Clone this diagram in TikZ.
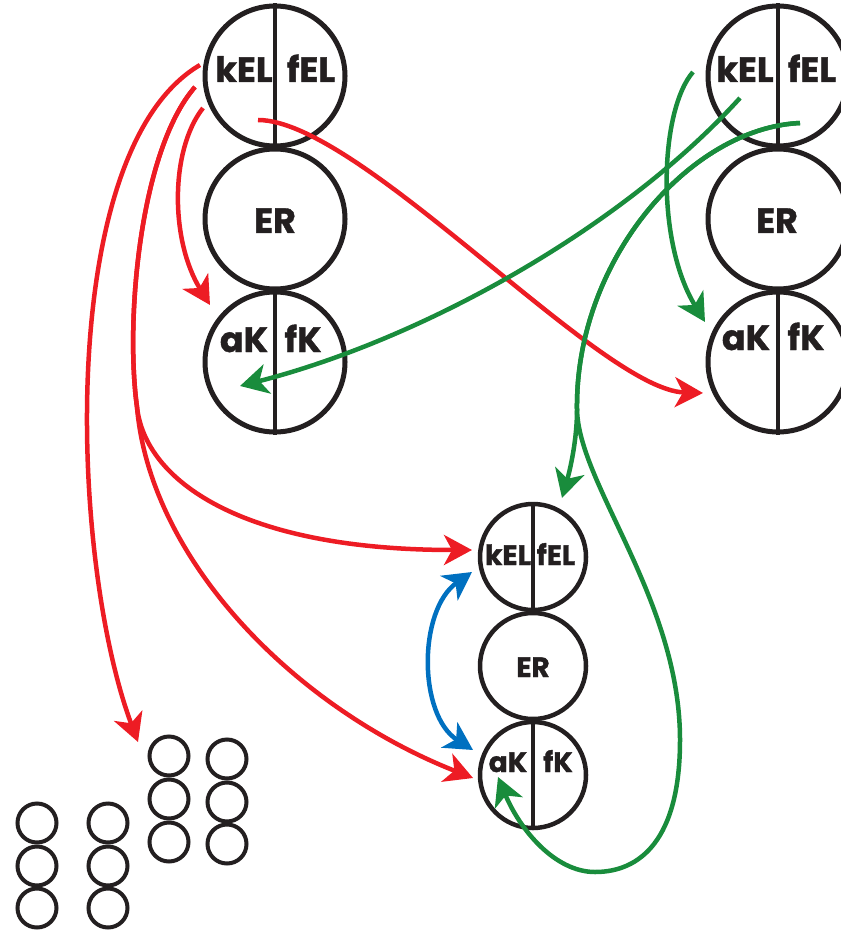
\documentclass[tikz,border=0pt]{standalone}
\usepackage{fontspec}
\setmainfont{Poppins}
\usetikzlibrary{arrows.meta}
\definecolor{cred}{RGB}{237,28,36}
\definecolor{cgreen}{RGB}{25,140,60}
\definecolor{cblue}{RGB}{0,112,192}
\definecolor{cblack}{RGB}{35,31,32}
\begin{document}
\begin{tikzpicture}[x=1pt,y=-1pt,
  bigc/.style={circle,draw=cblack,line width=5pt,minimum size=140pt,inner sep=0pt},
  midc/.style={circle,draw=cblack,line width=4.5pt,minimum size=106pt,inner sep=0pt},
  smallc/.style={circle,draw=cblack,line width=4pt,minimum size=39pt,inner sep=0pt},
  bigt/.style={font=\fontsize{35}{35}\selectfont\bfseries\addfontfeatures{FakeBold=1.2},text=cblack,anchor=base,inner sep=0pt},
  midt/.style={font=\fontsize{28}{28}\selectfont\bfseries\addfontfeatures{FakeBold=1.2},text=cblack,anchor=base,inner sep=0pt},
  divider/.style={draw=cblack,line width=4.5pt},
  conn/.style={line width=4.5pt,-{Stealth[length=28pt,width=30pt,inset=8pt]}},
  redc/.style={conn,draw=cred},
  greenc/.style={conn,draw=cgreen},
  bluec/.style={line width=4.5pt,draw=cblue,{Stealth[length=28pt,width=30pt,inset=8pt]}-{Stealth[length=28pt,width=30pt,inset=8pt]}}]
\useasboundingbox (0,0) rectangle (840,933);

% big circles, left column
\node[bigc] (TL1) at (275,76) {};
\node[bigc] (TL2) at (275,219) {};
\node[bigc] (TL3) at (275,362) {};
% big circles, right column
\node[bigc] (TR1) at (778,76) {};
\node[bigc] (TR2) at (778,219) {};
\node[bigc] (TR3) at (778,362) {};
% middle column
\node[midc] (M1) at (533,557) {};
\node[midc] (M2) at (533,666) {};
\node[midc] (M3) at (533,775) {};

\draw[divider] (TL1.north) -- (TL1.south);
\draw[divider] (TL3.north) -- (TL3.south);
\draw[divider] (TR1.north) -- (TR1.south);
\draw[divider] (TR3.north) -- (TR3.south);
\draw[divider] (M1.north) -- (M1.south);
\draw[divider] (M3.north) -- (M3.south);

% labels
\node[bigt] (tl1k) at (244,82) {kEL};
\node[bigt] (tl1f) at (311,82) {fEL};
\node[bigt] (tl2) at (275,233) {ER};
\node[bigt] (tl3a) at (244,352) {aK};
\node[bigt] (tl3f) at (303,352) {fK};
\node[bigt] (tr1k) at (745,82) {kEL};
\node[bigt] (tr1f) at (812,82) {fEL};
\node[bigt] (tr2) at (777,233) {ER};
\node[bigt] (tr3a) at (746,350) {aK};
\node[bigt] (tr3f) at (806,350) {fK};
\node[midt] (m1k) at (508,565) {kEL};
\node[midt] (m1f) at (556,565) {fEL};
\node[midt] (m2) at (533,677) {ER};
\node[midt] (m3a) at (508,772) {aK};
\node[midt] (m3f) at (558,772) {fK};

% small circles
\foreach \cx/\cy/\nm in {37/823/a1,37/866/a2,37/908/a3,108/823/b1,108/866/b2,108/908/b3,
  169/756/c1,169/799/c2,169/842/c3,227/759/d1,227/802/d2,227/844/d3}
  \node[smallc] (s\nm) at (\cx,\cy) {};

% connector end points
\coordinate (rs1) at (200,65);
\coordinate (rt1) at (138,742);
\coordinate (rs2) at (195,87);
\coordinate (rb) at (137,407);
\coordinate (rt2) at (472,550);
\coordinate (rt3) at (473,778);
\coordinate (rs4) at (203,108);
\coordinate (rt4) at (210,305);
\coordinate (rs5) at (258,120);
\coordinate (rt5) at (703,393);
\coordinate (gs1) at (693,72);
\coordinate (gt1) at (705,322);
\coordinate (gs2) at (740,98);
\coordinate (gt2) at (240,386);
\coordinate (gs3) at (800,123);
\coordinate (gb) at (577,410);
\coordinate (gt3) at (562,498);
\coordinate (gt4) at (498,777);
\coordinate (bt1) at (472,572);
\coordinate (bt2) at (473,750);

% red connectors
\draw[redc] (rs1) .. controls (55,150) and (70,560) .. (rt1);
\draw[redc] (rs2) .. controls (140,150) and (125,320) .. (rb) .. controls (145,480) and (240,550) .. (rt2);
\draw[redc] (rs2) .. controls (140,150) and (125,320) .. (rb) .. controls (150,560) and (295,708) .. (rt3);
\draw[redc] (rs4) .. controls (170,150) and (170,240) .. (rt4);
\draw[redc] (rs5) .. controls (360,120) and (600,390) .. (rt5);

% green connectors
\draw[greenc] (gs1) .. controls (660,110) and (655,240) .. (gt1);
\draw[greenc] (gs2) .. controls (620,230) and (420,340) .. (gt2);
\draw[greenc] (gs3) .. controls (690,128) and (575,260) .. (gb) .. controls (577,440) and (570,470) .. (gt3);
\draw[greenc] (gs3) .. controls (690,128) and (575,260) .. (gb) .. controls (579,485) and (680,600) .. (680,740)
  .. controls (680,840) and (640,872) .. (595,872) .. controls (555,872) and (520,830) .. (gt4);

% blue connector
\draw[bluec] (bt1) .. controls (418,610) and (418,715) .. (bt2);
\end{tikzpicture}
\end{document}
